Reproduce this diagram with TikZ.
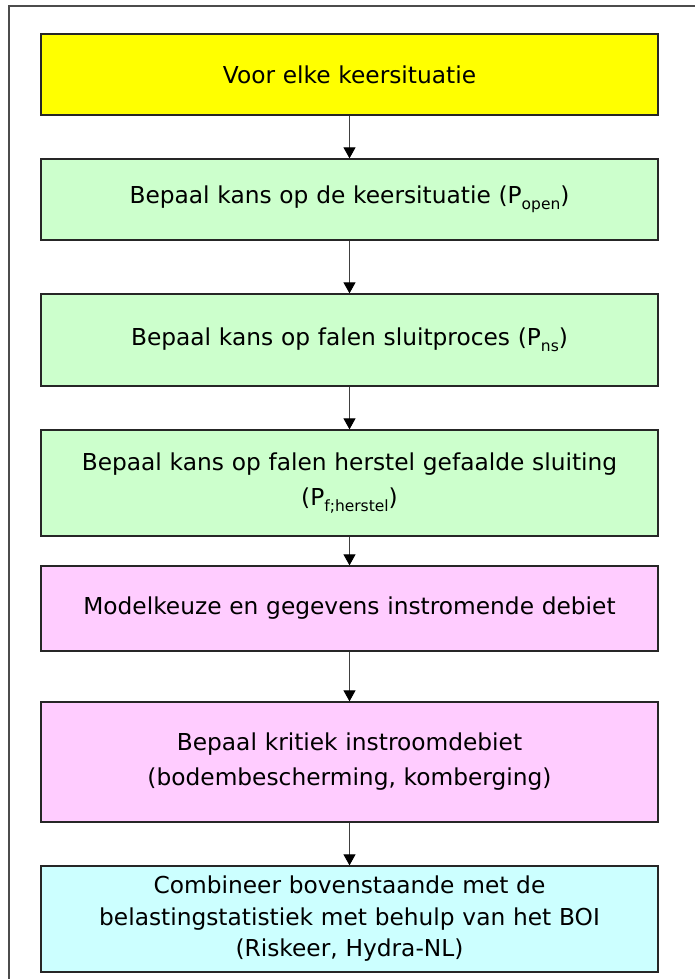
\documentclass[tikz,border=0pt]{standalone}
\usepackage{fontspec}
\setmainfont{DejaVu Sans}
\usetikzlibrary{arrows.meta}
\definecolor{boxyellow}{HTML}{FFFF00}
\definecolor{boxgreen}{HTML}{CCFFCC}
\definecolor{boxpink}{HTML}{FFCCFF}
\definecolor{boxcyan}{HTML}{CCFFFF}
\newcommand\lowtxt[1]{\raisebox{-5.5pt}{\fontsize{15.5}{15.5}\selectfont #1}}
\tikzset{
  stepbox/.style={draw=black!85, line width=1.3pt, minimum width=617pt,
    align=center, text width=605pt, inner sep=0pt,
    font=\fontsize{23.3}{31.5}\selectfont},
  widelines/.style={font=\fontsize{23.3}{35}\selectfont},
  flow/.style={draw=black!75, line width=1pt,
    -{Triangle[width=12pt,length=11pt,color=black]}}
}
\begin{document}
\begin{tikzpicture}[x=1pt,y=-1pt]
  \useasboundingbox (0,0) rectangle (695,979);
  \fill[white] (0,0) rectangle (695,979);
  \begin{scope}
    \clip (0,0) rectangle (695,979);
    \draw[black!70, line width=2pt] (8.5,6.5) rectangle (720,1000);
  \end{scope}

  \node[stepbox, fill=boxyellow, minimum height=81pt] (s1) at (349.5,74.5)
    {Voor elke keersituatie};
  \node[stepbox, fill=boxgreen, minimum height=81pt] (s2) at (349.5,199.5)
    {Bepaal kans op de keersituatie (P\lowtxt{open})};
  \node[stepbox, fill=boxgreen, minimum height=92pt] (s3) at (349.5,340)
    {Bepaal kans op falen sluitproces (P\lowtxt{ns})};
  \node[stepbox, widelines, fill=boxgreen, minimum height=106pt] (s4) at (349.5,483)
    {Bepaal kans op falen herstel gefaalde sluiting\\(P\lowtxt{f;herstel})};
  \node[stepbox, fill=boxpink, minimum height=85pt] (s5) at (349.5,608.5)
    {Modelkeuze en gegevens instromende debiet};
  \node[stepbox, widelines, fill=boxpink, minimum height=120pt] (s6) at (349.5,762)
    {Bepaal kritiek instroomdebiet\\(bodembescherming, komberging)};
  \node[stepbox, fill=boxcyan, minimum height=106pt] (s7) at (349.5,919)
    {Combineer bovenstaande met de\\belastingstatistiek met behulp van het BOI\\(Riskeer, Hydra-NL)};

  \draw[flow] (s1) -- (s2);
  \draw[flow] (s2) -- (s3);
  \draw[flow] (s3) -- (s4);
  \draw[flow] (s4) -- (s5);
  \draw[flow] (s5) -- (s6);
  \draw[flow] (s6) -- (s7);
\end{tikzpicture}
\end{document}
